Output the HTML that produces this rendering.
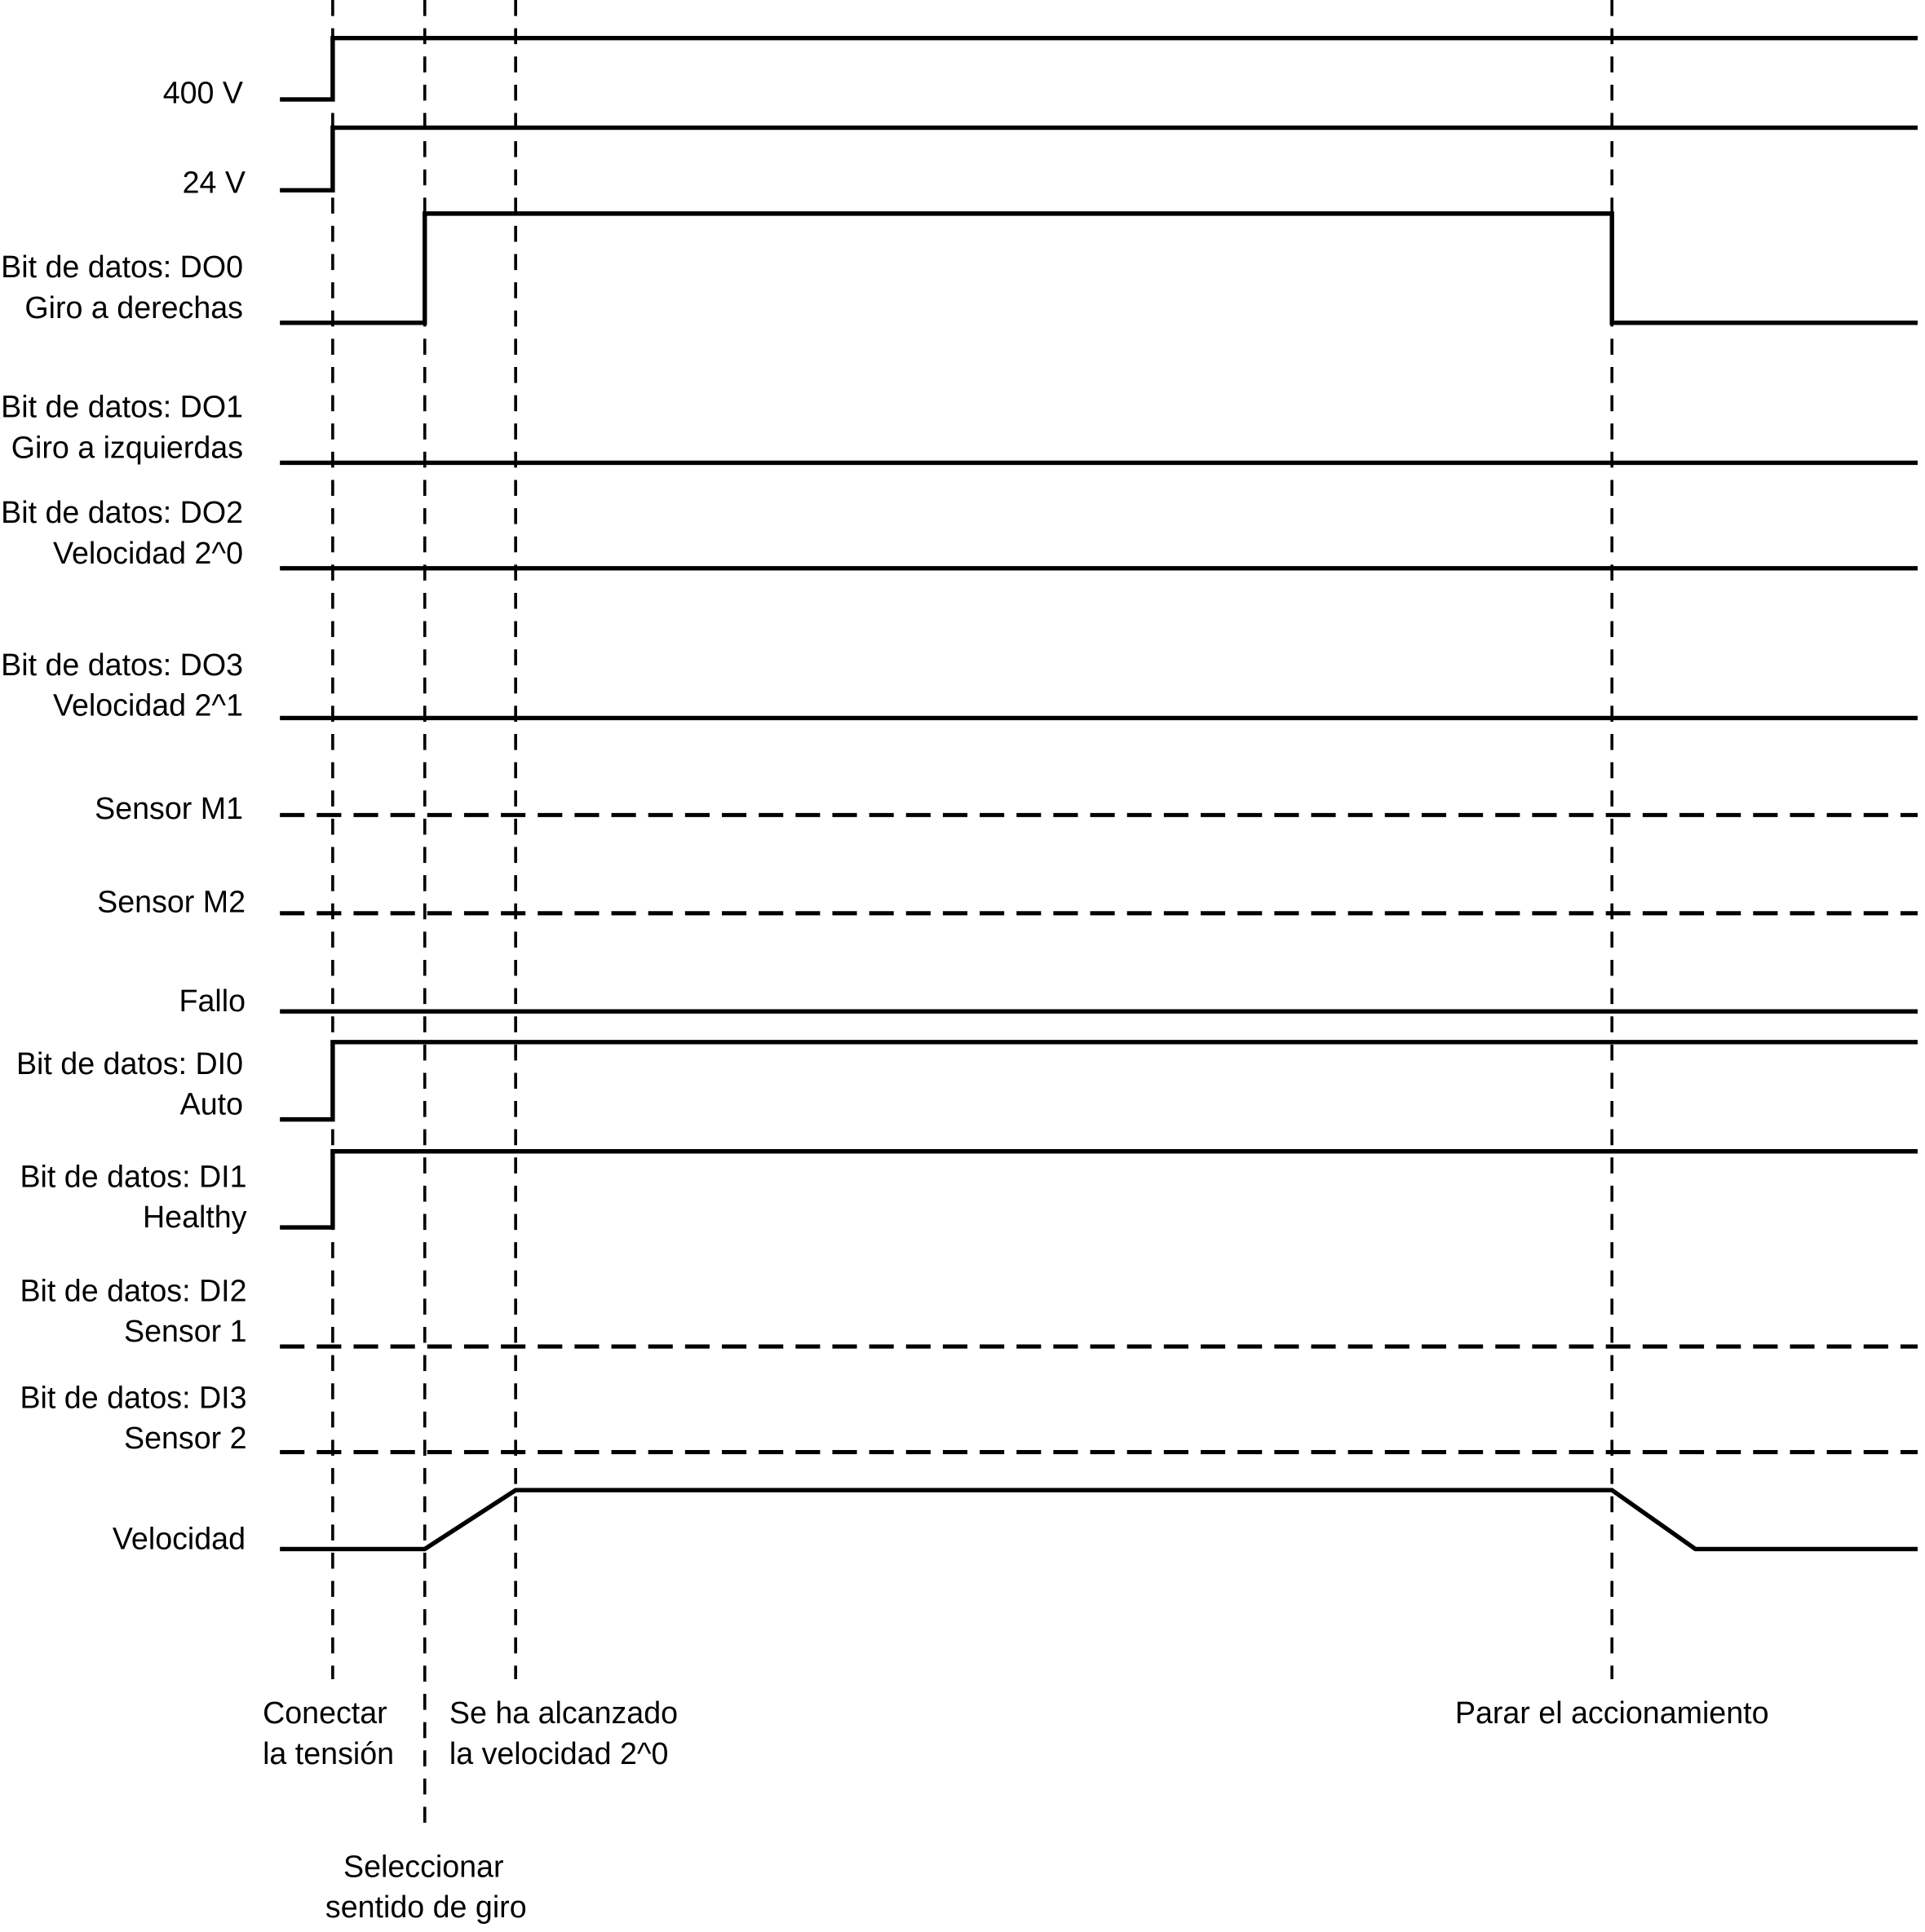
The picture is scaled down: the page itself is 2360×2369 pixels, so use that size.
<!DOCTYPE html>
<html><head><meta charset="utf-8"><style>
html,body{margin:0;padding:0;background:#fff;}
svg{display:block}
text{font-family:"Liberation Sans",sans-serif;font-size:25px;fill:#000}
</style></head><body>
<svg width="2360" height="2369" viewBox="0 0 1568 1574" preserveAspectRatio="none" xmlns="http://www.w3.org/2000/svg">
<g stroke="#000" stroke-width="2.4" fill="none" stroke-dasharray="13,10">
<line x1="271" y1="0" x2="271" y2="1368"/>
<line x1="346" y1="0" x2="346" y2="1490"/>
<line x1="420" y1="0" x2="420" y2="1368"/>
<line x1="1313" y1="0" x2="1313" y2="1368"/>
</g>
<g stroke="#000" stroke-width="3.6" fill="none" stroke-linejoin="miter">
<polyline points="228,81 271,81 271,31 1562,31"/>
<polyline points="228,155 271,155 271,104 1562,104"/>
<polyline points="228,263 346,263 346,174 1313,174 1313,263 1562,263"/>
<line x1="228" y1="377" x2="1562" y2="377"/>
<line x1="228" y1="463" x2="1562" y2="463"/>
<line x1="228" y1="585" x2="1562" y2="585"/>
<line x1="228" y1="824" x2="1562" y2="824"/>
<polyline points="228,912 271,912 271,849 1562,849"/>
<polyline points="228,1000 271,1000 271,938 1562,938"/>
<polyline points="228,1262 346,1262 420,1214 1313,1214 1381,1262 1562,1262"/>
</g>
<g stroke="#000" stroke-width="3.4" fill="none" stroke-dasharray="20,10">
<line x1="228" y1="664" x2="1562" y2="664"/>
<line x1="228" y1="744" x2="1562" y2="744"/>
<line x1="228" y1="1097" x2="1562" y2="1097"/>
<line x1="228" y1="1183" x2="1562" y2="1183"/>
</g>
<g text-anchor="end">
<text x="198" y="84">400 V</text>
<text x="200" y="157">24 V</text>
<text x="198" y="226">Bit de datos: DO0</text>
<text x="198" y="259">Giro a derechas</text>
<text x="198" y="340">Bit de datos: DO1</text>
<text x="198" y="373">Giro a izquierdas</text>
<text x="198" y="426">Bit de datos: DO2</text>
<text x="198" y="459">Velocidad 2^0</text>
<text x="198" y="550">Bit de datos: DO3</text>
<text x="198" y="583">Velocidad 2^1</text>
<text x="198" y="667">Sensor M1</text>
<text x="200" y="743">Sensor M2</text>
<text x="200" y="824">Fallo</text>
<text x="198" y="875">Bit de datos: DI0</text>
<text x="198" y="908">Auto</text>
<text x="201" y="967">Bit de datos: DI1</text>
<text x="201" y="1000">Healthy</text>
<text x="201" y="1060">Bit de datos: DI2</text>
<text x="201" y="1093">Sensor 1</text>
<text x="201" y="1147">Bit de datos: DI3</text>
<text x="201" y="1180">Sensor 2</text>
<text x="200" y="1262">Velocidad</text>
</g>
<text x="214" y="1404">Conectar</text>
<text x="214" y="1437">la tensión</text>
<text x="366" y="1404">Se ha alcanzado</text>
<text x="366" y="1437">la velocidad 2^0</text>
<text x="1313" y="1404" text-anchor="middle">Parar el accionamiento</text>
<text x="345" y="1529" text-anchor="middle">Seleccionar</text>
<text x="347" y="1562" text-anchor="middle">sentido de giro</text>
</svg>
</body></html>
